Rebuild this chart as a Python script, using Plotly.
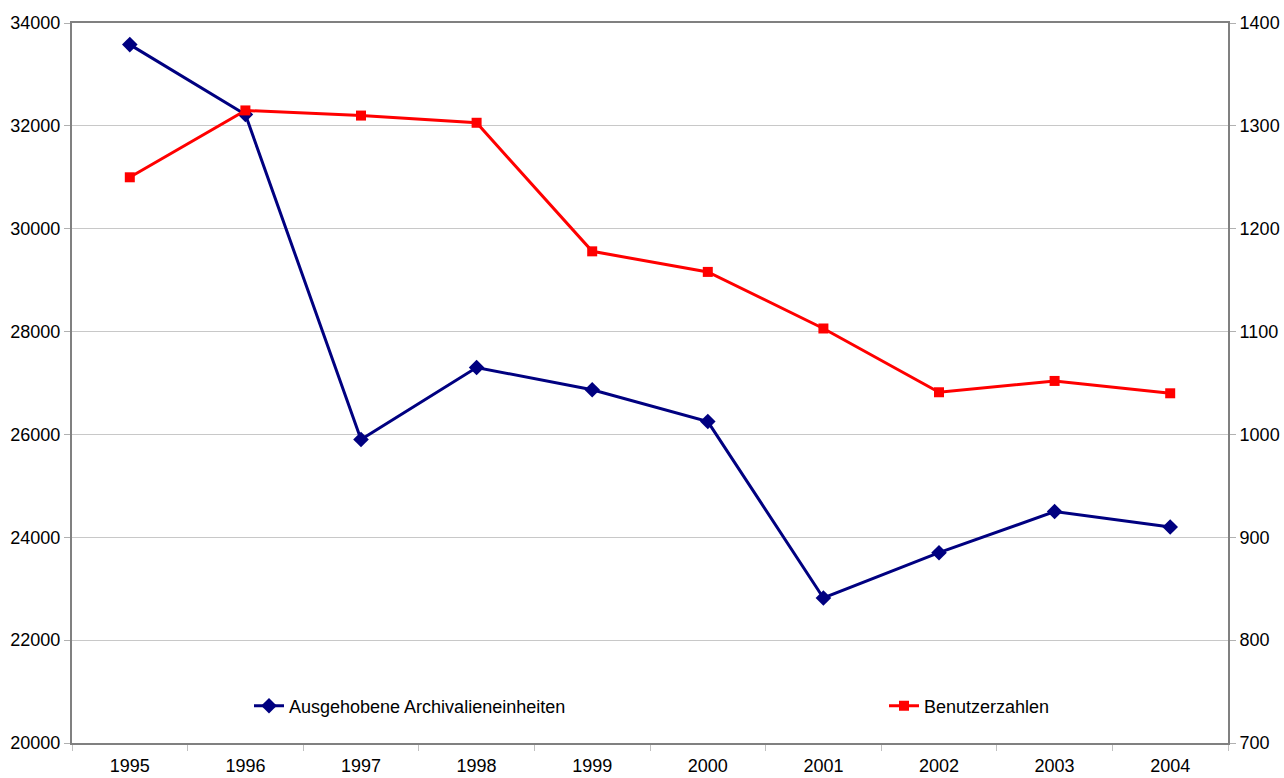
import plotly.graph_objects as go

years = ["1995", "1996", "1997", "1998", "1999", "2000", "2001", "2002", "2003", "2004"]
archivalien = [33580, 32220, 25900, 27300, 26870, 26250, 22820, 23700, 24500, 24200]
benutzer = [1250, 1315, 1310, 1303, 1178, 1158, 1103, 1041, 1052, 1040]

fig = go.Figure()
fig.add_trace(go.Scatter(
    x=years, y=archivalien, name="Ausgehobene Archivalieneinheiten",
    mode="lines+markers", legend="legend",
    line=dict(color="#000080", width=3),
    marker=dict(symbol="diamond", size=12, color="#000080"),
))
fig.add_trace(go.Scatter(
    x=years, y=benutzer, name="Benutzerzahlen", yaxis="y2",
    mode="lines+markers", legend="legend2",
    line=dict(color="#FF0000", width=3),
    marker=dict(symbol="square", size=10, color="#FF0000"),
))

axis_font = dict(family="Liberation Sans, Arial, sans-serif", size=18, color="#000000")
W, H = 1284, 778
L, R, T, B = 72, 56, 23, 35
pw = W - L - R
ph = H - T - B

def px_x(px):
    return (px - L) / pw

def px_y(py):
    return (H - B - py) / ph

fig.update_layout(
    width=W, height=H,
    margin=dict(l=L, r=R, t=T, b=B, autoexpand=False),
    paper_bgcolor="white", plot_bgcolor="white",
    font=axis_font,
    showlegend=True,
    legend=dict(
        x=px_x(249), y=px_y(706), xanchor="left", yanchor="middle",
        bgcolor="rgba(0,0,0,0)", font=axis_font,
    ),
    legend2=dict(
        x=px_x(884), y=px_y(706), xanchor="left", yanchor="middle",
        bgcolor="rgba(0,0,0,0)", font=axis_font,
    ),
    xaxis=dict(
        type="category", range=[-0.5, 9.5], automargin=False,
        showline=True, linecolor="#808080", linewidth=2, mirror=True,
        ticks="outside", tickson="boundaries", ticklen=6, tickcolor="#c0c0c0",
        ticklabelstandoff=5,
        showgrid=False, tickfont=axis_font,
    ),
    yaxis=dict(
        range=[20000, 34000], dtick=2000, tickformat="d", automargin=False,
        showline=True, linecolor="#808080", linewidth=2,
        ticks="outside", ticklen=6, tickcolor="#b0b0b0",
        showgrid=True, gridcolor="#c8c8c8", gridwidth=1,
        zeroline=False, tickfont=axis_font,
    ),
    yaxis2=dict(
        range=[700, 1400], dtick=100, tickformat="d", overlaying="y", side="right",
        automargin=False,
        showline=True, linecolor="#808080", linewidth=2,
        ticks="outside", ticklen=6, tickcolor="#b0b0b0",
        showgrid=False, zeroline=False, tickfont=axis_font,
    ),
)

fig.write_html(
    "out.html",
    config={"displayModeBar": False},
    post_script="document.body.style.margin='0';document.body.style.overflow='hidden';",
)
